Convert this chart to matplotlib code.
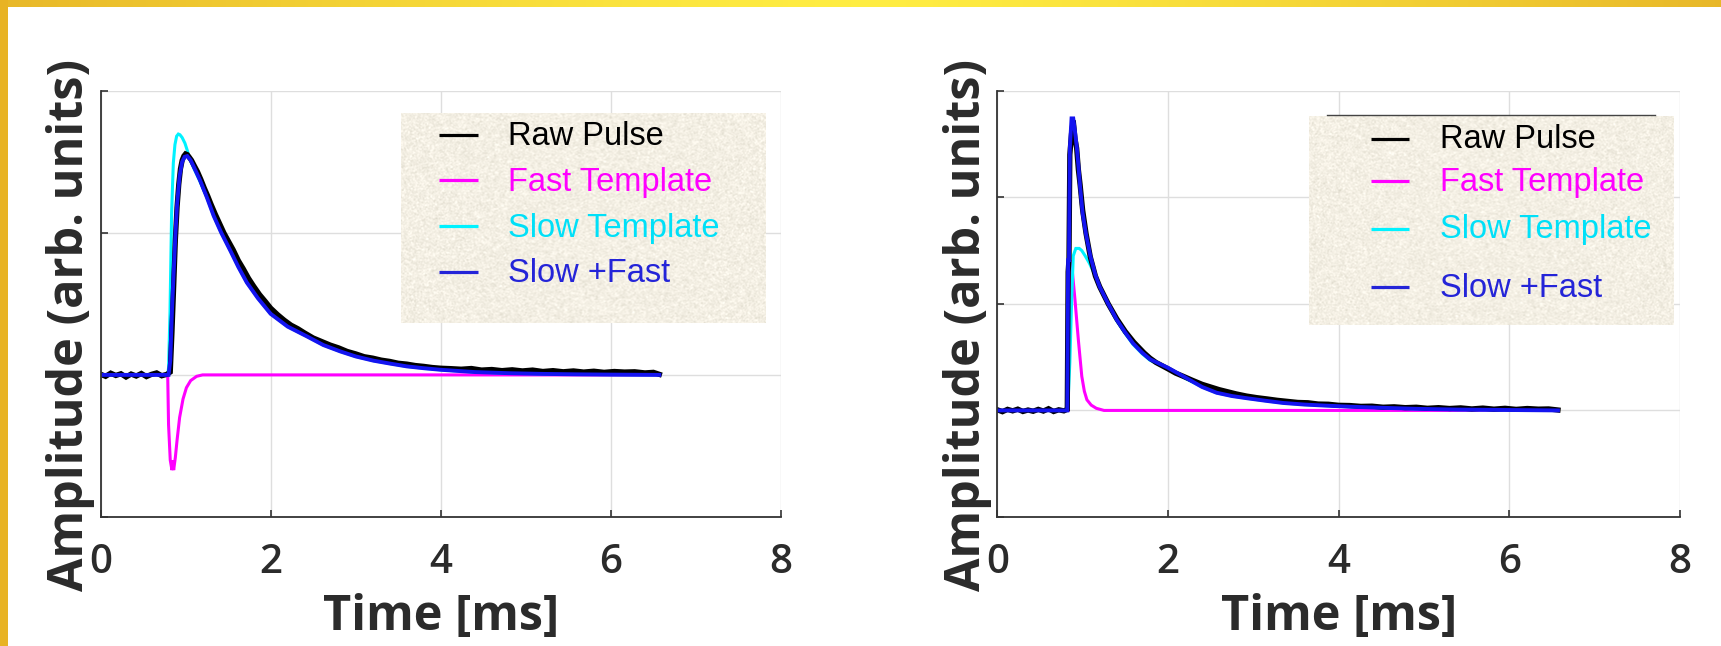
import numpy as np
import matplotlib
matplotlib.use("Agg")
import matplotlib.pyplot as plt
from matplotlib.lines import Line2D
from matplotlib.patches import Rectangle
from matplotlib.transforms import blended_transform_factory

# ---------------- data ----------------
series_names = ["Raw Pulse", "Fast Template", "Slow Template", "Slow +Fast"]
line_colors = ["#000000", "#ff00ff", "#00f2ff", "#1414f0"]
text_colors = ["#000000", "#ff00ff", "#00e0f8", "#2424d8"]

x_ticks = [0, 2, 4, 6, 8]
x_tick_labels = ["0", "2", "4", "6", "8"]
x_label = "Time [ms]"
y_label = "Amplitude (arb. units)"

# Left panel: pulse with a negative fast component
left_ylim = (-1, 2)
left_yticks = [-1, 0, 1, 2]

left_raw_t = [0.00, 0.06, 0.12, 0.18, 0.24, 0.30, 0.36, 0.42, 0.48, 0.54, 0.60, 0.66, 0.72, 0.78,
              0.82, 0.84, 0.86, 0.88, 0.90, 0.92, 0.94, 0.96, 0.98, 1.00, 1.02, 1.04, 1.07, 1.10,
              1.14, 1.18, 1.22, 1.26, 1.30, 1.35, 1.40, 1.45, 1.50, 1.56, 1.62, 1.68, 1.74, 1.80,
              1.87, 1.94, 2.00, 2.08, 2.16, 2.24, 2.32, 2.40, 2.50, 2.60, 2.70, 2.80, 2.90, 3.00,
              3.10, 3.20, 3.30, 3.40, 3.50, 3.60, 3.70, 3.80, 3.90, 4.00, 4.12, 4.24, 4.36, 4.48,
              4.60, 4.72, 4.84, 4.96, 5.08, 5.20, 5.32, 5.44, 5.56, 5.68, 5.80, 5.92, 6.04, 6.16,
              6.28, 6.40, 6.50, 6.57]
left_raw_v = [0.005, -0.010, 0.012, -0.004, 0.008, -0.015, 0.006, -0.008, 0.010, -0.012, 0.004, 0.014, -0.006, 0.004,
              0.02, 0.30, 0.62, 0.95, 1.18, 1.34, 1.45, 1.51, 1.54, 1.555, 1.55, 1.535, 1.51, 1.475,
              1.43, 1.375, 1.315, 1.26, 1.20, 1.13, 1.065, 1.00, 0.945, 0.88, 0.805, 0.745, 0.68, 0.625,
              0.565, 0.515, 0.47, 0.425, 0.385, 0.35, 0.325, 0.295, 0.26, 0.235, 0.21, 0.19, 0.165, 0.148,
              0.128, 0.118, 0.104, 0.095, 0.082, 0.076, 0.066, 0.060, 0.052, 0.047, 0.044, 0.040, 0.045, 0.034,
              0.038, 0.030, 0.036, 0.028, 0.034, 0.024, 0.030, 0.022, 0.028, 0.020, 0.026, 0.018, 0.024, 0.020,
              0.022, 0.014, 0.018, 0.004]

left_fast_t = [0.00, 0.79, 0.80, 0.82, 0.84, 0.85, 0.86, 0.88, 0.90, 0.93, 0.97, 1.01, 1.06, 1.13, 1.20, 6.57]
left_fast_v = [0.00, 0.00, -0.35, -0.60, -0.67, -0.60, -0.67, -0.58, -0.46, -0.30, -0.17, -0.09, -0.04, -0.01, 0.00, 0.00]

left_slow_t = [0.00, 0.79, 0.80, 0.817, 0.836, 0.856, 0.875, 0.895, 0.915, 0.934, 0.96, 0.993, 1.02, 1.05, 1.10, 1.17,
               1.25, 1.33, 1.42, 1.53, 1.62, 1.72, 1.85, 2.00, 2.20, 2.43, 2.62, 2.82, 3.00, 3.21, 3.40, 3.60,
               3.80, 4.00, 4.40, 4.80, 5.20, 5.60, 6.00, 6.57]
left_slow_v = [0.00, 0.00, 0.05, 0.44, 1.14, 1.49, 1.62, 1.68, 1.695, 1.69, 1.67, 1.63, 1.58, 1.52, 1.45, 1.36,
               1.25, 1.12, 1.00, 0.87, 0.76, 0.65, 0.54, 0.43, 0.34, 0.27, 0.21, 0.165, 0.13, 0.10, 0.08, 0.06,
               0.047, 0.036, 0.020, 0.012, 0.007, 0.004, 0.002, 0.00]

left_sum_t = [0.00, 0.80, 0.82, 0.84, 0.86, 0.88, 0.90, 0.93, 0.96, 0.99, 1.02, 1.06, 1.10, 1.17, 1.25, 1.33,
              1.42, 1.53, 1.62, 1.72, 1.85, 2.00, 2.20, 2.43, 2.62, 2.82, 3.00, 3.21, 3.40, 3.60, 3.80, 4.00,
              4.40, 4.80, 5.20, 5.60, 6.00, 6.57]
left_sum_v = [0.00, 0.00, 0.10, 0.45, 0.72, 0.98, 1.20, 1.40, 1.50, 1.535, 1.54, 1.51, 1.46, 1.37, 1.25, 1.12,
              1.00, 0.87, 0.76, 0.65, 0.54, 0.43, 0.34, 0.27, 0.21, 0.165, 0.13, 0.10, 0.08, 0.06, 0.047, 0.036,
              0.020, 0.012, 0.007, 0.004, 0.002, 0.00]

# Right panel: pulse with a positive fast component
right_ylim = (-1, 3)
right_yticks = [-1, 0, 1, 2, 3]

right_raw_t = [0.00, 0.06, 0.12, 0.18, 0.24, 0.30, 0.36, 0.42, 0.48, 0.54, 0.60, 0.66, 0.72, 0.78,
               0.82, 0.83, 0.84, 0.85, 0.87, 0.89, 0.91, 0.93, 0.95, 0.97, 1.00, 1.04, 1.09, 1.15,
               1.20, 1.25, 1.30, 1.35, 1.40, 1.45, 1.50, 1.55, 1.60, 1.66, 1.72, 1.79, 1.86, 1.93,
               2.00, 2.09, 2.18, 2.28, 2.40, 2.50, 2.60, 2.70, 2.80, 2.92, 3.04, 3.16, 3.28, 3.40,
               3.52, 3.64, 3.76, 3.88, 4.00, 4.13, 4.26, 4.39, 4.52, 4.65, 4.78, 4.91, 5.04, 5.17,
               5.30, 5.43, 5.56, 5.69, 5.82, 5.95, 6.08, 6.21, 6.34, 6.46, 6.57]
right_raw_v = [0.006, -0.012, 0.010, -0.004, 0.012, -0.010, 0.004, -0.008, 0.010, -0.006, 0.016, -0.010, 0.006, -0.004,
               0.01, 1.30, 1.42, 2.40, 2.60, 2.72, 2.55, 2.46, 2.26, 2.12, 1.88, 1.66, 1.44, 1.26,
               1.16, 1.08, 1.00, 0.93, 0.86, 0.80, 0.74, 0.69, 0.64, 0.59, 0.54, 0.49, 0.45, 0.42,
               0.39, 0.35, 0.32, 0.285, 0.245, 0.22, 0.195, 0.175, 0.155, 0.135, 0.12, 0.108, 0.095, 0.085,
               0.075, 0.072, 0.060, 0.058, 0.048, 0.046, 0.038, 0.040, 0.030, 0.034, 0.026, 0.030, 0.020, 0.026,
               0.018, 0.024, 0.014, 0.022, 0.012, 0.020, 0.010, 0.018, 0.012, 0.014, 0.004]

right_fast_t = [0.00, 0.83, 0.84, 0.86, 0.88, 0.91, 0.95, 0.99, 1.02, 1.05, 1.10, 1.16, 1.25, 6.57]
right_fast_v = [0.00, 0.00, 1.00, 1.41, 1.30, 1.04, 0.66, 0.32, 0.18, 0.10, 0.05, 0.02, 0.00, 0.00]

right_slow_t = [0.00, 0.82, 0.83, 0.85, 0.87, 0.89, 0.92, 0.96, 0.99, 1.03, 1.08, 1.15, 1.20, 1.30, 1.40, 1.50,
                1.59, 1.70, 1.79, 2.00, 2.18, 2.40, 2.57, 2.75, 2.92, 3.15, 3.35, 3.60, 3.85, 4.13, 4.50,
                4.91, 5.40, 6.00, 6.57]
right_slow_v = [0.00, 0.00, 0.10, 0.45, 1.00, 1.45, 1.52, 1.52, 1.50, 1.45, 1.38, 1.26, 1.15, 0.99, 0.84, 0.72,
                0.62, 0.53, 0.47, 0.39, 0.31, 0.22, 0.165, 0.135, 0.115, 0.09, 0.07, 0.055, 0.045, 0.035, 0.025,
                0.015, 0.008, 0.004, 0.00]

right_sum_t = [0.00, 0.82, 0.83, 0.84, 0.85, 0.87, 0.89, 0.91, 0.93, 0.95, 0.97, 1.00, 1.04, 1.09, 1.15, 1.20,
               1.30, 1.40, 1.50, 1.59, 1.70, 1.79, 2.00, 2.18, 2.40, 2.57, 2.75, 2.92, 3.15, 3.35, 3.60,
               3.85, 4.13, 4.50, 4.91, 5.40, 6.00, 6.57]
right_sum_v = [0.00, 0.00, 1.41, 1.41, 2.46, 2.74, 2.74, 2.62, 2.48, 2.30, 2.10, 1.85, 1.65, 1.45, 1.27, 1.16,
               1.00, 0.85, 0.73, 0.63, 0.54, 0.48, 0.40, 0.32, 0.22, 0.166, 0.135, 0.115, 0.09, 0.07, 0.055,
               0.045, 0.035, 0.025, 0.015, 0.008, 0.004, 0.00]

# ---------------- figure ----------------
W, H = 1721, 646
fig = plt.figure(figsize=(W / 100, H / 100), dpi=100)
fig.patch.set_facecolor("white")


def fx(px):
    return px / W


def fy(py):
    return 1 - py / H


label_font = "Open Sans"
legend_font = ["Liberation Sans", "DejaVu Sans"]
dark = "#2b2b2b"

# decorative slide frame: gradient bar along the top, solid bar on the left
grad = np.linspace(-1, 1, 600)
w_mid = 1 - np.abs(grad) ** 1.3
c_edge = np.array([0.91, 0.72, 0.16])
c_mid = np.array([1.00, 0.93, 0.26])
bar = c_edge[None, :] * (1 - w_mid[:, None]) + c_mid[None, :] * w_mid[:, None]
bax = fig.add_axes([0, fy(7), 1, 7 / H])
bax.imshow(bar[None, :, :], aspect="auto", extent=(0, 1, 0, 1))
bax.axis("off")
fig.patches.append(Rectangle((0, 0), fx(8), 1, transform=fig.transFigure,
                             facecolor="#e8b324", edgecolor="none", zorder=5))

# (t, v, colour index, line width) in drawing order
panels = [
    dict(left=100.5, right=781, ylim=left_ylim, yticks=left_yticks,
         series=[(left_fast_t, left_fast_v, 1, 2.2),
                 (left_slow_t, left_slow_v, 2, 2.2),
                 (left_raw_t, left_raw_v, 0, 3.8),
                 (left_sum_t, left_sum_v, 3, 2.8)],
         legend_box=(401, 113, 765, 323), handle_x=(439, 478),
         handle_y=[135, 180, 226, 271.7], text_x=508, text_base=[145, 190.7, 236.7, 281.7],
         top_rule=None),
    dict(left=997.3, right=1680, ylim=right_ylim, yticks=right_yticks,
         series=[(right_fast_t, right_fast_v, 1, 2.2),
                 (right_slow_t, right_slow_v, 2, 2.2),
                 (right_raw_t, right_raw_v, 0, 3.8),
                 (right_sum_t, right_sum_v, 3, 2.8)],
         legend_box=(1309, 116, 1673, 325), handle_x=(1371, 1409),
         handle_y=[139, 180.7, 229, 286.7], text_x=1440, text_base=[148.3, 190.7, 237.7, 296.7],
         top_rule=(1327, 1655, 115)),
]

ax_top, ax_bot = 90.7, 517
rng = np.random.default_rng(11)

for p in panels:
    ax = fig.add_axes([fx(p["left"]), fy(ax_bot), (p["right"] - p["left"]) / W, (ax_bot - ax_top) / H])
    ax.set_xlim(0, 8)
    ax.set_ylim(*p["ylim"])
    ax.set_xticks(x_ticks)
    ax.set_yticks(p["yticks"])
    ax.grid(True, color="#dedede", lw=1.0)
    ax.set_axisbelow(True)
    for s in ("top", "right"):
        ax.spines[s].set_visible(False)
    for s in ("left", "bottom"):
        ax.spines[s].set_color("#333333")
        ax.spines[s].set_linewidth(1.3)
    ax.tick_params(direction="in", length=5, width=1.2, colors="#333333",
                   labelbottom=False, labelleft=False)

    for t, v, ci, lw in p["series"]:
        ax.plot(t, v, color=line_colors[ci], lw=lw, solid_joinstyle="miter")

    # tick labels and axis titles
    tr = blended_transform_factory(ax.transData, fig.transFigure)
    for xv, lab in zip(x_ticks, x_tick_labels):
        ax.text(xv, fy(573), lab, transform=tr, ha="center", va="baseline",
                fontsize=29, family=label_font, fontweight="semibold", color=dark, clip_on=False)
    ax.text(4, fy(630), x_label, transform=tr, ha="center", va="baseline",
            fontsize=35, family=label_font, fontweight="bold", color=dark, clip_on=False)
    fig.text(fx(p["left"] - 30), fy(325), y_label, rotation=90, ha="center", va="center",
             fontsize=35, family=label_font, fontweight="bold", color=dark)

    # legend panel with a paper-like texture
    x0, y0, x1, y1 = p["legend_box"]
    lax = fig.add_axes([fx(x0), fy(y1), (x1 - x0) / W, (y1 - y0) / H], zorder=3)
    hh, ww = int(y1 - y0), int(x1 - x0)
    n = rng.normal(0, 1, (hh + 1, ww + 1))
    n = (n[:-1, :-1] + n[1:, :-1] + n[:-1, 1:] + n[1:, 1:]) / 4
    base = np.array([0.957, 0.940, 0.895])
    tex = np.clip(base[None, None, :] + n[..., None] * np.array([0.040, 0.040, 0.045]), 0, 1)
    lax.imshow(tex, extent=(x0, x1, y1, y0), aspect="auto", interpolation="bilinear")
    lax.set_xlim(x0, x1)
    lax.set_ylim(y1, y0)
    lax.axis("off")
    for i, name in enumerate(series_names):
        hy = p["handle_y"][i]
        lax.plot(p["handle_x"], [hy, hy], color=text_colors[i] if i != 2 else line_colors[2],
                 lw=2.3, solid_capstyle="butt")
        lax.text(p["text_x"], p["text_base"][i], name, ha="left", va="baseline",
                 fontsize=23.5, family=legend_font, color=text_colors[i])
    if p["top_rule"] is not None:
        rx0, rx1, ry = p["top_rule"]
        fig.lines.append(Line2D([fx(rx0), fx(rx1)], [fy(ry), fy(ry)], transform=fig.transFigure,
                                color="#444444", lw=1.0, zorder=6))

fig.savefig("out.png", dpi=100, facecolor="white")
